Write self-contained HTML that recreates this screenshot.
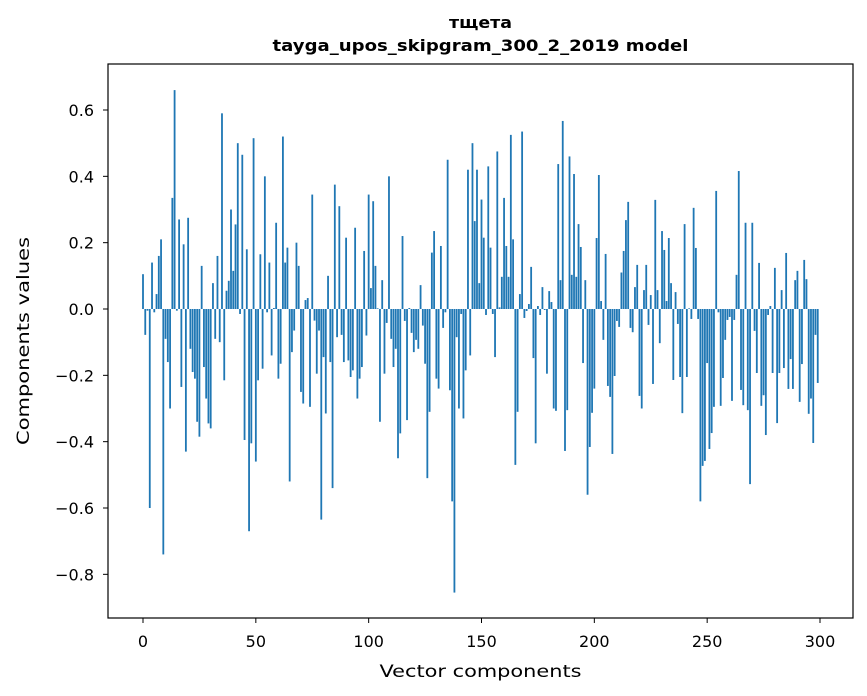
<!DOCTYPE html>
<html><head><meta charset="utf-8"><style>
body{margin:0;background:#fff;}
svg{display:block;font-family:"DejaVu Sans","Liberation Sans",sans-serif;}
</style></head><body>
<svg id="chart" width="867" height="696" viewBox="0 0 867 696">
<rect width="867" height="696" fill="#fff"/>
<text x="480.5" y="28" text-anchor="middle" font-size="16" font-weight="bold" textLength="63" lengthAdjust="spacingAndGlyphs">тщета</text>
<text x="480.5" y="51" text-anchor="middle" font-size="16" font-weight="bold" textLength="416" lengthAdjust="spacingAndGlyphs">tayga_upos_skipgram_300_2_2019 model</text>
<g id="bars"></g>
<g id="xticks"></g>
<g id="yticks"></g>
<rect x="108" y="64" width="745" height="554" fill="none" stroke="#000" stroke-width="1.2"/>
<text x="480.5" y="677" text-anchor="middle" font-size="17" textLength="202" lengthAdjust="spacingAndGlyphs">Vector components</text>
<text transform="translate(29,341) rotate(-90)" text-anchor="middle" font-size="17" textLength="208" lengthAdjust="spacingAndGlyphs">Components values</text>
</svg>
<script>
const values = [0.105,-0.078,-0.005,-0.60,0.14,-0.01,0.045,0.16,0.21,-0.74,-0.09,-0.16,-0.30,0.335,0.66,-0.005,0.27,-0.235,0.195,-0.43,0.275,-0.12,-0.19,-0.21,-0.34,-0.385,0.13,-0.175,-0.27,-0.345,-0.36,0.078,-0.09,0.16,-0.10,0.59,-0.215,0.055,0.085,0.30,0.115,0.255,0.50,-0.015,0.465,-0.395,0.18,-0.67,-0.405,0.515,
-0.46,-0.215,0.165,-0.18,0.40,-0.01,0.14,-0.14,0.003,0.26,-0.21,-0.165,0.52,0.14,0.185,-0.52,-0.13,-0.065,0.20,0.13,-0.25,-0.285,0.027,0.033,-0.295,0.345,-0.035,-0.195,-0.065,-0.635,-0.145,-0.315,0.10,-0.16,-0.54,0.375,-0.085,0.31,-0.078,-0.16,0.215,-0.155,-0.205,-0.185,0.245,-0.27,-0.21,-0.175,0.175,-0.08,
0.345,0.063,0.325,0.13,0.002,-0.34,0.087,-0.195,-0.042,0.40,-0.09,-0.175,-0.12,-0.45,-0.375,0.22,-0.036,-0.335,0.003,-0.072,-0.13,-0.093,-0.12,0.072,-0.05,-0.165,-0.51,-0.31,0.17,0.235,-0.21,-0.24,0.19,-0.057,-0.01,0.45,-0.245,-0.58,-0.855,-0.085,-0.30,-0.015,-0.33,-0.185,0.42,-0.14,0.50,0.265,0.42,0.078,
0.33,0.215,-0.018,0.43,0.185,-0.015,-0.145,0.475,0.005,0.097,0.335,0.19,0.097,0.525,0.21,-0.47,-0.31,0.045,0.535,-0.027,-0.006,0.015,0.127,-0.148,-0.405,0.009,-0.018,0.066,-0.003,-0.195,0.054,0.021,-0.30,-0.307,0.437,0.087,0.567,-0.428,-0.305,0.46,0.103,0.407,0.097,0.256,0.187,-0.163,0.087,-0.56,-0.416,-0.313,
-0.24,0.214,0.404,0.024,-0.093,0.166,-0.232,-0.265,-0.437,-0.202,-0.036,-0.054,0.11,0.175,0.268,0.323,-0.057,-0.07,0.066,0.133,-0.262,-0.30,0.057,0.133,-0.048,0.042,-0.226,0.329,0.057,-0.103,0.235,0.178,0.024,0.214,0.078,-0.214,0.051,-0.045,-0.205,-0.314,0.256,-0.205,0.002,-0.03,0.305,0.184,-0.03,-0.58,-0.473,-0.458,
-0.163,-0.422,-0.374,-0.295,0.356,-0.01,-0.292,-0.208,-0.093,-0.033,-0.024,-0.277,-0.033,0.103,0.416,-0.244,-0.29,0.26,-0.305,-0.528,0.26,-0.066,-0.193,0.139,-0.292,-0.26,-0.38,-0.018,0.009,-0.193,0.124,-0.344,-0.193,0.057,-0.178,0.169,-0.241,-0.151,-0.241,0.087,0.115,-0.28,-0.166,0.148,0.09,-0.316,-0.27,-0.404,-0.078,-0.223];
const xTickValues = [0,50,100,150,200,250,300];
const yTickValues = [-0.8,-0.6,-0.4,-0.2,0.0,0.2,0.4,0.6];
const yTickLabels = ["\u22120.8","\u22120.6","\u22120.4","\u22120.2","0.0","0.2","0.4","0.6"];

const NS="http://www.w3.org/2000/svg";
function xScale(v){return 143+v*(820-143)/300;}
function yScale(v){return 309-v*(309-110)/0.6;}
const barsG=document.getElementById('bars');
const bw=0.8*(820-143)/300;
values.forEach((v,i)=>{
  const r=document.createElementNS(NS,'rect');
  const y0=yScale(0), y1=yScale(v);
  r.setAttribute('x',xScale(i)-bw/2);
  r.setAttribute('y',Math.min(y0,y1));
  r.setAttribute('width',bw);
  r.setAttribute('height',Math.max(Math.abs(y1-y0),0.3));
  r.setAttribute('fill','#1f77b4');
  
  
  barsG.appendChild(r);
});
const xg=document.getElementById('xticks');
xTickValues.forEach(t=>{
  const x=xScale(t);
  const l=document.createElementNS(NS,'line');
  l.setAttribute('x1',x);l.setAttribute('x2',x);l.setAttribute('y1',618);l.setAttribute('y2',623);
  l.setAttribute('stroke','#000');
  
  
  xg.appendChild(l);
  const tx=document.createElementNS(NS,'text');
  tx.setAttribute('x',x);tx.setAttribute('y',647);tx.setAttribute('text-anchor','middle');tx.setAttribute('font-size','16');
  tx.textContent=t;
  
  
  xg.appendChild(tx);
});
const yg=document.getElementById('yticks');
yTickValues.forEach((t,i)=>{
  const y=yScale(t);
  const l=document.createElementNS(NS,'line');
  l.setAttribute('x1',103);l.setAttribute('x2',108);l.setAttribute('y1',y);l.setAttribute('y2',y);
  l.setAttribute('stroke','#000');
  
  
  yg.appendChild(l);
  const tx=document.createElementNS(NS,'text');
  tx.setAttribute('x',94);tx.setAttribute('y',y+6);tx.setAttribute('text-anchor','end');tx.setAttribute('font-size','16');
  tx.textContent=yTickLabels[i];
  
  
  yg.appendChild(tx);
});
</script>
</body></html>
